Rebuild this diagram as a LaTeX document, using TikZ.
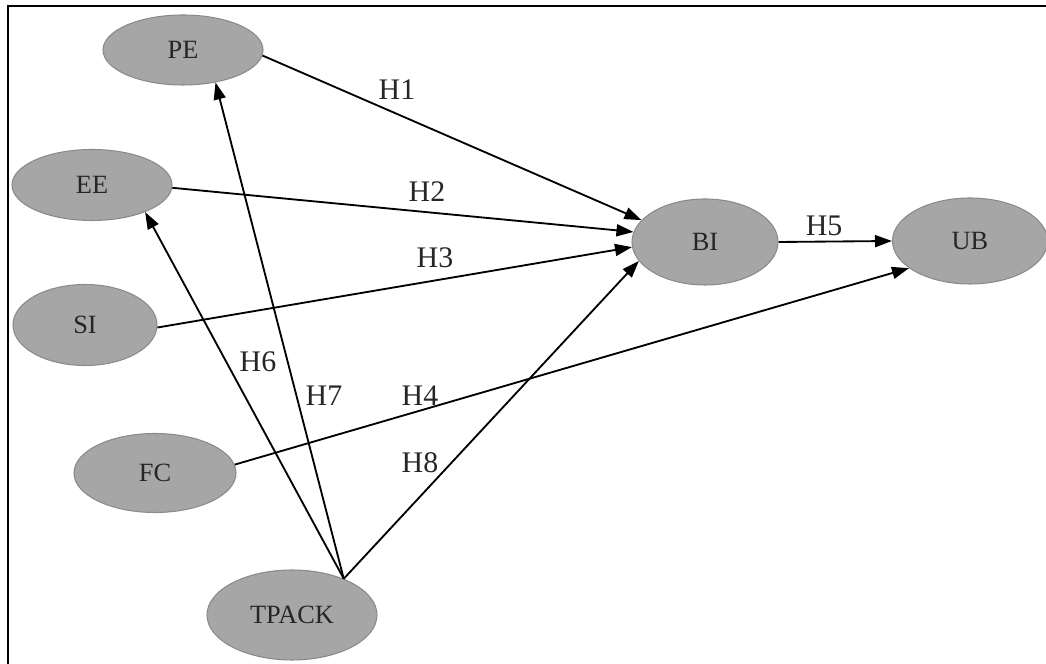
\documentclass[tikz,border=0pt]{standalone}
\usepackage{fontspec}
\setmainfont{Liberation Serif}
\usetikzlibrary{positioning,arrows.meta,shapes.geometric}
\definecolor{latentfill}{HTML}{A6A6A6}
\definecolor{latentline}{HTML}{8A8A8A}
\tikzset{
  latent/.style={ellipse, draw=latentline, line width=0.6pt, fill=latentfill, inner sep=0pt, text=black!85, font=\fontsize{15}{18}\selectfont},
  patharrow/.style={-{Triangle[length=3.4mm, width=2.4mm]}, line width=1.05pt},
  hyplabel/.style={font=\fontsize{17}{20}\selectfont, inner sep=1pt, text=black!85}
}
\begin{document}
\begin{tikzpicture}
  \useasboundingbox (0,0) rectangle (20.92,13.28);
  \draw[line width=1.2pt] (0.16,0) -- (0.16,13.16) -- (20.92,13.16);
  % constructs
  \node[latent, minimum width=3.2cm, minimum height=1.4cm] (pe) at (3.66,12.28) {PE};
  \node[latent, minimum width=3.2cm, minimum height=1.42cm] (ee) at (1.84,9.58) {EE};
  \node[latent, minimum width=2.88cm, minimum height=1.62cm] (si) at (1.70,6.78) {SI};
  \node[latent, minimum width=3.24cm, minimum height=1.58cm] (fc) at (3.10,3.82) {FC};
  \node[latent, minimum width=3.4cm, minimum height=1.8cm] (tpack) at (5.84,0.98) {TPACK};
  \node[latent, minimum width=2.92cm, minimum height=1.72cm] (bi) at (14.10,8.44) {BI};
  \node[latent, minimum width=3.1cm, minimum height=1.72cm] (ub) at (19.40,8.46) {UB};
  % paths
  \draw[patharrow] (pe.-4) -- (bi.161);
  \draw[patharrow] (ee.-2) -- (bi.172);
  \draw[patharrow] (si.-2) -- (bi.184);
  \draw[patharrow] (fc.6) -- (ub.204);
  \draw[patharrow] (bi.east) -- (ub.west);
  \draw[patharrow] (tpack.35) -- (ee.-27);
  \draw[patharrow] (tpack.35) -- (pe.-45);
  \draw[patharrow] (tpack.35) -- (bi.196);
  % hypotheses
  \node[hyplabel] (h1) at (7.94,11.48) {H1};
  \node[hyplabel] (h2) at (8.54,9.44) {H2};
  \node[hyplabel] (h3) at (8.70,8.12) {H3};
  \node[hyplabel] (h4) at (8.40,5.36) {H4};
  \node[hyplabel] (h5) at (16.48,8.76) {H5};
  \node[hyplabel] (h6) at (5.16,6.04) {H6};
  \node[hyplabel] (h7) at (6.48,5.36) {H7};
  \node[hyplabel] (h8) at (8.40,4.02) {H8};
\end{tikzpicture}
\end{document}
